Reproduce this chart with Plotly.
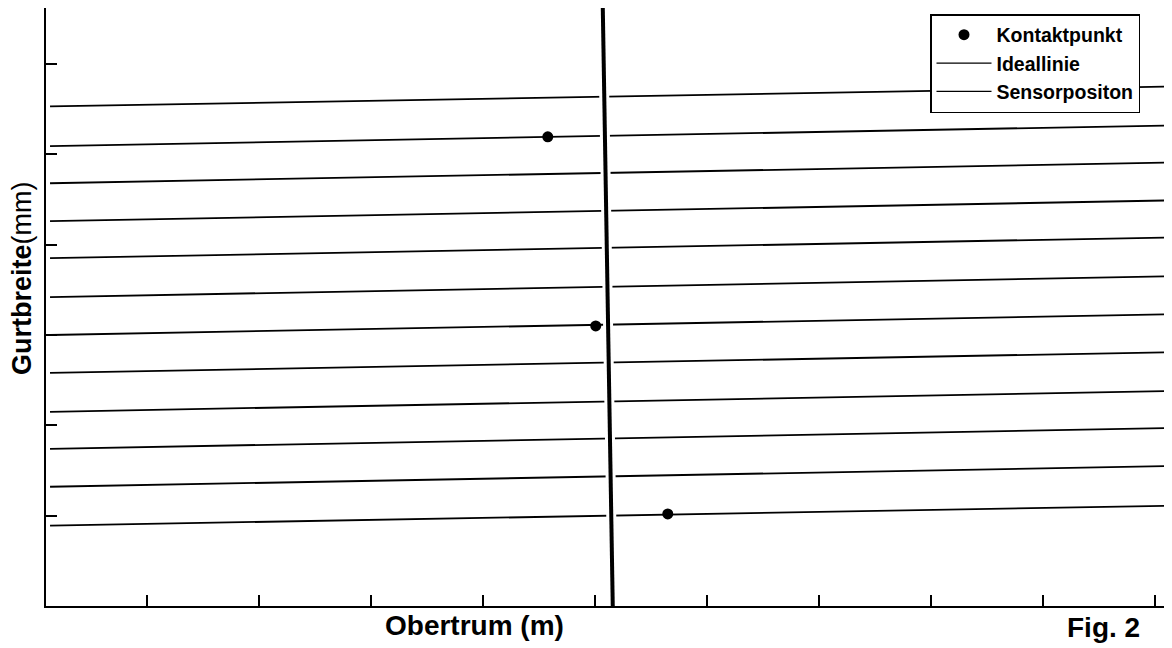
import plotly.graph_objects as go

# ---- data ----
# sensor lines: y at left end and at right end (slight tilt of the scan)
sensor_x_start = 0.135
sensor_x_end = 10.13
sensor_y_left = [5.53, 5.09, 4.68, 4.26, 3.85, 3.42, 3.00, 2.58, 2.15, 1.74, 1.32, 0.89]
sensor_y_right = [5.75, 5.32, 4.91, 4.49, 4.08, 3.65, 3.23, 2.81, 2.38, 1.97, 1.55, 1.11]

# ideal line (nearly vertical)
ideal_x = [5.068, 5.157]
ideal_y = [6.62, 0.0]

# contact points
contact_x = [4.577, 5.005, 5.648]
contact_y = [5.194, 3.101, 1.019]

x_ticks = [1, 2, 3, 4, 5, 6, 7, 8, 9, 10]
y_ticks = [1, 2, 3, 4, 5, 6]

FONT = "Liberation Sans, Arial, sans-serif"

fig = go.Figure()

# sensor lines as one trace with gaps
sx, sy = [], []
for yl, yr in zip(sensor_y_left, sensor_y_right):
    sx += [sensor_x_start, sensor_x_end, None]
    sy += [yl, yr, None]
fig.add_trace(go.Scatter(x=sx, y=sy, mode="lines",
                         line=dict(color="black", width=1.8),
                         name="Sensorpositon", showlegend=False, hoverinfo="skip"))

# white halo then thick ideal line
fig.add_trace(go.Scatter(x=ideal_x, y=ideal_y, mode="lines",
                         line=dict(color="white", width=10),
                         showlegend=False, hoverinfo="skip"))
fig.add_trace(go.Scatter(x=ideal_x, y=ideal_y, mode="lines",
                         line=dict(color="black", width=4),
                         name="Ideallinie", showlegend=False))

# contact points
fig.add_trace(go.Scatter(x=contact_x, y=contact_y, mode="markers",
                         marker=dict(color="black", size=11),
                         name="Kontaktpunkt"))
# legend entries for the lines (thin, as in the reference legend)
fig.add_trace(go.Scatter(x=[None], y=[None], mode="lines",
                         line=dict(color="black", width=1.3), name="Ideallinie"))
fig.add_trace(go.Scatter(x=[None], y=[None], mode="lines",
                         line=dict(color="black", width=1.3), name="Sensorpositon"))

# page body has an 8px margin: compensate so screen positions match
OX, OY = 8, 8
L, R, T, B = 38, 2, 0, 42
W, H = 1164, 640
pw, ph = W - L - R, H - T - B

def px_x(sx_):
    return (sx_ - OX - L) / pw

def px_y(sy_):
    return (H - B - (sy_ - OY)) / ph

fig.update_layout(
    width=W, height=H,
    margin=dict(l=L, r=R, t=T, b=B, pad=0),
    paper_bgcolor="white", plot_bgcolor="white",
    font=dict(family=FONT, color="black"),
    showlegend=True,
    legend=dict(x=px_x(930), y=px_y(14), xanchor="left", yanchor="top",
                bgcolor="white", bordercolor="black", borderwidth=1.5,
                font=dict(family=FONT, size=19.5, color="black", weight="bold"),
                itemwidth=55, tracegroupgap=0),
    xaxis=dict(range=[0.099, 10.13], tickvals=x_ticks, showticklabels=False,
               ticks="inside", ticklen=11, tickwidth=1.5, tickcolor="black",
               showline=True, linecolor="black", linewidth=2,
               showgrid=False, zeroline=False, fixedrange=True),
    yaxis=dict(range=[0, 6.62], tickvals=y_ticks, showticklabels=False,
               ticks="inside", ticklen=11, tickwidth=1.5, tickcolor="black",
               showline=True, linecolor="black", linewidth=2,
               showgrid=False, zeroline=False, fixedrange=True),
    annotations=[
        dict(text="<b>Obertrum (m)</b>", xref="paper", yref="paper",
             x=px_x(474), y=px_y(625), xanchor="center", yanchor="middle",
             showarrow=False, font=dict(family=FONT, size=28, color="black")),
        dict(text="<b>Gurtbreite</b>(mm)", xref="paper", yref="paper",
             x=px_x(22), y=px_y(278), xanchor="center", yanchor="middle",
             textangle=-90, showarrow=False,
             font=dict(family=FONT, size=27, color="black")),
        dict(text="<b>Fig. 2</b>", xref="paper", yref="paper",
             x=px_x(1065), y=px_y(645), xanchor="left", yanchor="bottom",
             showarrow=False, font=dict(family=FONT, size=28, color="black")),
    ],
)

fig.write_html("out.html")
